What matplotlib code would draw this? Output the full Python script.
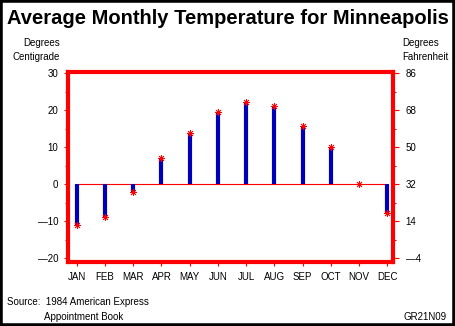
import matplotlib.pyplot as plt
from matplotlib.ticker import MultipleLocator, FixedLocator
from matplotlib.patches import Rectangle

# monthly mean temperature, degrees C
months = ['JAN', 'FEB', 'MAR', 'APR', 'MAY', 'JUN',
          'JUL', 'AUG', 'SEP', 'OCT', 'NOV', 'DEC']
temp_c = [-11.1, -8.9, -2.2, 7.2, 13.9, 19.4, 22.2, 21.1, 15.6, 10.0, 0.0, -7.8]
c_ticks = [-20, -10, 0, 10, 20, 30]
f_ticks = [-4, 14, 32, 50, 68, 86]

plt.rcParams['font.family'] = ['Liberation Sans', 'DejaVu Sans']
RED = '#ff0000'
BLUE = '#0000bb'

fig = plt.figure(figsize=(4.55, 3.26), dpi=100)
fig.patches.append(Rectangle((0, 0), 1, 1, transform=fig.transFigure,
                             fill=False, edgecolor='black', linewidth=4))

ax = fig.add_axes([68/455, 1-262/326, 325/455, 190/326])
x = list(range(1, 13))
ax.plot([1, 12], [0, 0], color=RED, lw=0.8, zorder=2)
ax.vlines(x, 0, temp_c, color=BLUE, lw=3, zorder=3)
ax.plot(x, temp_c, ls='none', marker=(8, 2, 0), ms=5, mew=0.6,
        color=RED, zorder=4)

ax.set_xlim(0.69, 12.2)
ax.set_ylim(-21, 30.3)
ax.set_xticks(x)
ax.set_xticklabels(months)
ax.set_yticks(c_ticks)
ax.set_yticklabels([str(v).replace('-', '\u2014') for v in c_ticks])
ax.yaxis.set_minor_locator(MultipleLocator(5))

for s in ax.spines.values():
    s.set_color(RED)
    s.set_linewidth(3)

ax.tick_params(axis='both', which='major', colors=RED, labelcolor='black',
               labelsize=7, length=3, width=0.8, direction='out', pad=4)
ax.tick_params(axis='y', which='minor', colors=RED, length=2, width=0.8)

ax2 = ax.twinx()
ax2.set_ylim(-21*1.8+32, 30.3*1.8+32)
ax2.set_yticks(f_ticks)
ax2.set_yticklabels([str(v).replace('-', '\u2014') for v in f_ticks])
ax2.yaxis.set_minor_locator(FixedLocator([5, 23, 41, 59, 77]))
for s in ax2.spines.values():
    s.set_visible(False)
ax2.tick_params(axis='y', which='major', colors=RED, labelcolor='black',
                labelsize=7, length=4, width=0.8, pad=5)
ax2.tick_params(axis='y', which='minor', colors=RED, length=2, width=0.8)

fig.text(0.5, 1-18/326, 'Average Monthly Temperature for Minneapolis',
         ha='center', va='center', fontsize=14.5, fontweight='bold')
fig.text(60/455, 1-50/326, 'Degrees\nCentigrade', ha='right', va='center',
         fontsize=7, linespacing=1.5)
fig.text(402/455, 1-50/326, 'Degrees\nFahrenheit', ha='left', va='center',
         fontsize=7, linespacing=1.5)
fig.text(7/455, 1-302/326, 'Source:  1984 American Express', ha='left',
         va='center', fontsize=7)
fig.text(44/455, 1-317/326, 'Appointment Book', ha='left', va='center',
         fontsize=7)
fig.text(447/455, 1-317/326, 'GR21N09', ha='right', va='center', fontsize=7)

fig.savefig('out.png', dpi=100)
